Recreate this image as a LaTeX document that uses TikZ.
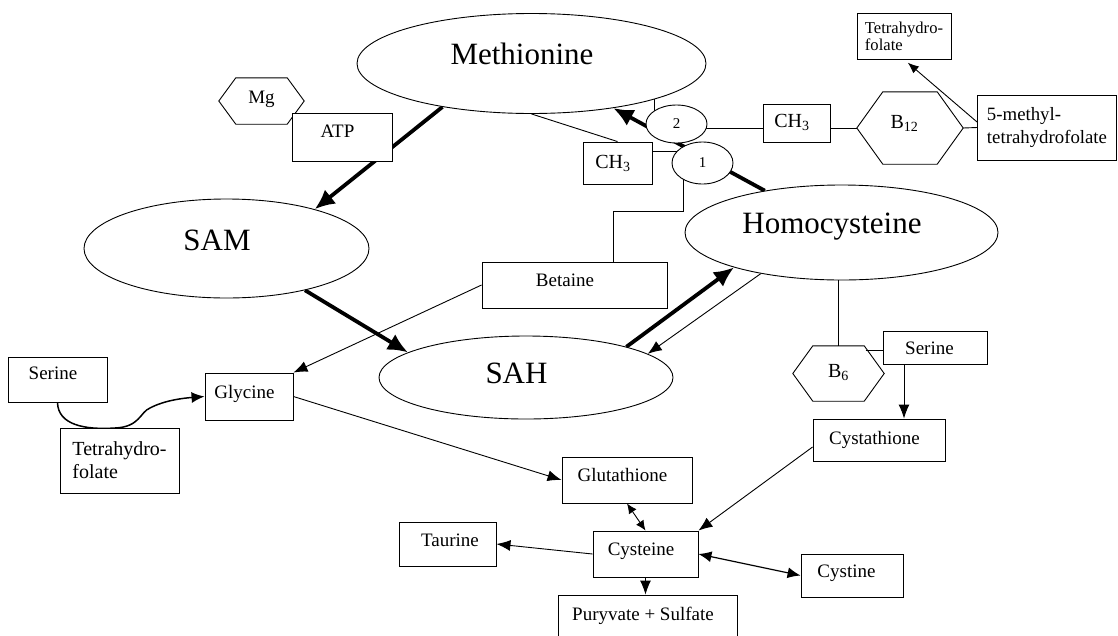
\documentclass[tikz,border=0pt]{standalone}
\usepackage{fontspec}
\setmainfont{Liberation Serif}
\usetikzlibrary{arrows.meta,backgrounds,calc,shapes.geometric}
\newcommand{\hexpath}[2]{\path[draw,line width=0.9pt] (#1.west) -- ([xshift=#2]#1.north west) -- ([xshift=-#2]#1.north east) -- (#1.east) -- ([xshift=-#2]#1.south east) -- ([xshift=#2]#1.south west) -- cycle;}

\begin{document}
\begin{tikzpicture}[x=1pt,y=-1pt,
  big/.style={draw,ellipse,fill=white,line width=0.9pt,inner sep=0pt,font=\fontsize{31}{36}\selectfont,text height=21pt,execute at end node={\hspace*{19pt}}},
  box/.style={draw,rectangle,fill=white,line width=0.9pt,inner sep=0pt,font=\fontsize{19}{22}\selectfont,text height=13pt,text depth=9pt,execute at end node={\hspace*{9pt}}},
  note/.style={draw,rectangle,fill=white,line width=0.9pt,inner sep=0pt,align=left},
  enz/.style={draw,ellipse,fill=white,line width=0.9pt,inner sep=0pt,minimum width=61pt,font=\fontsize{15}{17}\selectfont},
  hex/.style={rectangle,inner sep=0pt,font=\fontsize{20}{22}\selectfont,text height=13pt},
  conn/.style={line width=0.9pt,-{Latex[length=14pt,width=11pt]}},
  heavy/.style={line width=3.8pt,-{Latex[length=20pt,width=18pt]}}]
\useasboundingbox (0,0) rectangle (1118,635);

\node[big,minimum width=349pt,minimum height=100pt,text depth=19pt] (methionine) at (531.5,63.5) {Methionine};
\node[big,minimum width=285pt,minimum height=99pt,text depth=17pt] (sam) at (226.5,248.5) {SAM};
\node[big,minimum width=294pt,minimum height=83pt,text depth=10pt] (sah) at (526,377.5) {SAH};
\node[big,minimum width=313pt,minimum height=95pt,text depth=20pt] (homocys) at (841.5,232.5) {Homocysteine};

\node[enz,minimum height=38pt] (enz2) at (676.5,124) {2};
\node[enz,minimum height=42pt] (enz1) at (702.5,163) {1};

\node[hex,font=\fontsize{19}{22}\selectfont,minimum width=85pt,minimum height=46pt,text depth=9pt] (mg) at (261.5,101) {Mg};
\hexpath{mg}{17pt}
\node[box,minimum width=100pt,minimum height=48pt,text depth=12pt] (atp) at (342,137) {ATP};

\node[box,font=\fontsize{20}{22}\selectfont,minimum width=69pt,minimum height=42pt,text depth=2pt] (ch3a) at (617.5,163) {CH\textsubscript{3}};
\node[box,font=\fontsize{20}{22}\selectfont,minimum width=67pt,minimum height=38pt,text depth=4pt] (ch3b) at (796.5,123) {CH\textsubscript{3}};
\node[hex,minimum width=106pt,minimum height=72pt,text depth=13pt,execute at end node={\hspace*{11pt}}] (b12) at (910,128) {B\textsubscript{12}};
\hexpath{b12}{26pt}
\node[note,font=\fontsize{18.8}{23}\selectfont,minimum width=139pt,minimum height=65pt] (methyl) at (1047,127.5) {5-methyl-\\tetrahydrofolate};
\node[note,font=\fontsize{16.6}{17}\selectfont,minimum width=94pt,minimum height=46pt] (thf2) at (904,36) {Tetrahydro-\\folate};

\node[box,minimum width=185pt,minimum height=46pt,text depth=9.5pt,execute at end node={\hspace*{10pt}}] (betaine) at (574.5,285) {Betaine};
\node[box,minimum width=99pt,minimum height=45pt,text depth=13pt] (serine1) at (57.5,379.5) {Serine};
\node[box,minimum width=88pt,minimum height=47pt,text depth=8.5pt] (glycine) at (249,396.5) {Glycine};
\node[note,font=\fontsize{20}{23}\selectfont,minimum width=119pt,minimum height=65pt] (thf1) at (119.5,460.5) {Tetrahydro-\\folate};

\node[hex,minimum width=91pt,minimum height=55pt,text depth=5pt] (b6) at (838.5,373.5) {B\textsubscript{6}};
\hexpath{b6}{20pt}
\node[box,minimum width=104pt,minimum height=33pt,text depth=0pt,execute at end node={\hspace*{2pt}}] (serine2) at (935,347.5) {Serine};
\node[box,minimum width=132pt,minimum height=42pt,text depth=5pt] (cysta) at (879,440) {Cystathione};
\node[box,minimum width=130pt,minimum height=46pt,text depth=10pt] (glutathione) at (627,480) {Glutathione};
\node[box,minimum width=105pt,minimum height=46pt,text depth=10pt] (cysteine) at (645.5,554) {Cysteine};
\node[box,minimum width=97pt,minimum height=44pt,text depth=8pt,execute at end node={\hspace*{-14pt}}] (taurine) at (447.5,544) {Taurine};
\node[box,minimum width=102pt,minimum height=43pt,text depth=9pt,execute at end node={\hspace*{2pt}}] (cystine) at (852,575.5) {Cystine};
\node[box,minimum width=179pt,minimum height=42pt,text depth=4pt] (puryvate) at (647.5,616) {Puryvate + Sulfate};

\begin{scope}[on background layer]
\path[draw,heavy] (homocys) -- (methionine);
\path[draw,heavy] (methionine.206) -- (sam.24);
\path[draw,heavy] (sam.332) -- (sah.168);
\path[draw,heavy] (sah.17) -- (homocys.198);
\path[draw,conn] (homocys.207) -- (sah.11);

\path[draw,line width=0.9pt] ([xshift=-22.5pt]enz2.center) -- ++(0,-60);
\path[draw,line width=0.9pt] (methionine.south) -- (ch3a.north);
\path[draw,line width=0.9pt] ([yshift=12pt]ch3a.east) -- ++(40,0);
\path[draw,line width=0.9pt] ([xshift=-19.5pt]enz1.center) -- ++(0,48) -| ([xshift=38.5pt]betaine.north);
\path[draw,line width=0.9pt] (b12.west) -- ++(-160,0);
\path[draw,line width=0.9pt] (b12.east) -- (methyl.west);
\path[draw,conn,-{Latex[length=11pt,width=9pt]},shorten >=5pt] ([yshift=5.5pt]methyl.west) -- (thf2.south);

\path[draw,line width=0.9pt] (b6.north) -- ++(0,-70);
\path[draw,line width=0.9pt] ([xshift=-17pt,yshift=-2.5pt]serine2.west) -- ([yshift=-2.5pt]serine2.west);
\path[draw,conn] ([xshift=-31pt]serine2.south) -- ([xshift=25pt]cysta.north);

\path[draw,conn] (betaine.west) -- (glycine.north east);
\path[draw,line width=1.5pt,-{Latex[length=13pt,width=11pt]}] (serine1.south) .. controls (58,425) and (85,430) .. (115,428) .. controls (140,427) and (140,412) .. (150,408) .. controls (165,400) and (185,398) .. (glycine.west);
\path[draw,conn] (glycine.east) -- (glutathione.west);
\path[draw,conn] ([yshift=-7pt]cysta.west) -- (cysteine.north east);
\path[draw,line width=0.9pt,{Latex[length=10pt,width=9pt]}-{Latex[length=10pt,width=9pt]}] (glutathione.south) -- (cysteine.north);
\path[draw,conn] (cysteine.west) -- (taurine.east);
\path[draw,line width=1.2pt,{Latex[length=13pt,width=11pt]}-{Latex[length=13pt,width=11pt]}] (cysteine.east) -- (cystine.west);
\path[draw,conn] (cysteine.south) -- (cysteine.south |- puryvate.north);
\end{scope}
\end{tikzpicture}
\end{document}
